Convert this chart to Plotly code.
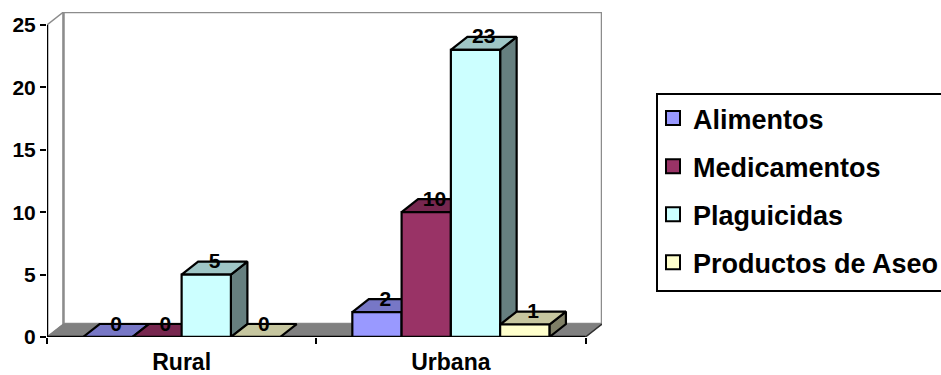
import plotly.graph_objects as go

# Chart data
categories = ["Rural", "Urbana"]
series_names = ["Alimentos", "Medicamentos", "Plaguicidas", "Productos de Aseo"]
alimentos = [0, 2]
medicamentos = [0, 10]
plaguicidas = [5, 23]
productos_aseo = [0, 1]
y_ticks = [0, 5, 10, 15, 20, 25]

series_values = [alimentos, medicamentos, plaguicidas, productos_aseo]
front_colors = ["#9999FF", "#993366", "#CCFFFF", "#FFFFCC"]


def shade(hex_color, factor):
    r, g, b = (int(hex_color[i:i + 2], 16) for i in (1, 3, 5))
    return f"rgb({int(r * factor)},{int(g * factor)},{int(b * factor)})"


# Oblique projection: how far the back plane is shifted, in axis units
DEPTH_X = 0.0613
DEPTH_Y = 1.04
BAR_GAP = 0.268
n_cat = len(categories)
n_ser = len(series_names)
y_top = max(y_ticks)
bar_w = (1 - BAR_GAP) / n_ser

FONT = "Liberation Sans, Arial, sans-serif"
WALL = "#8C8C8C"
EDGE = 2.2

fig = go.Figure()


def polygon(xs, ys, fill, line="black", width=EDGE):
    """Closed filled face on the rear subplot."""
    fig.add_trace(go.Scatter(
        x=xs + xs[:1], y=ys + ys[:1], mode="lines", fill="toself", fillcolor=fill,
        line=dict(color=line, width=width), showlegend=False, hoverinfo="skip",
        cliponaxis=False, xaxis="x", yaxis="y",
    ))


# Walls and floor
polygon([0, DEPTH_X, DEPTH_X, 0], [0, DEPTH_Y, y_top + DEPTH_Y, y_top], "white", WALL, 1.5)
polygon([DEPTH_X, n_cat + DEPTH_X, n_cat + DEPTH_X, DEPTH_X],
        [DEPTH_Y, DEPTH_Y, y_top + DEPTH_Y, y_top + DEPTH_Y], "white", WALL, 2.5)
polygon([0, n_cat, n_cat + DEPTH_X, DEPTH_X], [0, 0, DEPTH_Y, DEPTH_Y], "#808080", "#808080", 1)
fig.add_trace(go.Scatter(
    x=[n_cat, n_cat + DEPTH_X], y=[0, DEPTH_Y], mode="lines",
    line=dict(color="#303030", width=1.5), showlegend=False, hoverinfo="skip",
    cliponaxis=False, xaxis="x", yaxis="y",
))

# Top and side faces, painted left to right so later boxes hide earlier ones
for c in range(n_cat):
    for s in range(n_ser):
        v = series_values[s][c]
        x0 = c + BAR_GAP / 2 + s * bar_w
        x1 = x0 + bar_w
        color = front_colors[s]
        if v > 0:
            polygon([x1, x1 + DEPTH_X, x1 + DEPTH_X, x1],
                    [0, DEPTH_Y, v + DEPTH_Y, v], shade(color, 0.5))
        polygon([x0, x1, x1 + DEPTH_X, x0 + DEPTH_X],
                [v, v, v + DEPTH_Y, v + DEPTH_Y], shade(color, 0.78))

# Front faces, on the overlay subplot so they sit above every depth face
cat_centers = [c + 0.5 for c in range(n_cat)]
for name, values, color in zip(series_names, series_values, front_colors):
    fig.add_trace(go.Bar(
        x=cat_centers, y=values, name=name, showlegend=False,
        marker=dict(color=color, line=dict(color="black", width=EDGE)),
        cliponaxis=False, xaxis="x2", yaxis="y2",
    ))

# Legend keys: square markers, larger than the fixed swatch of a bar trace
for name, color in zip(series_names, front_colors):
    fig.add_trace(go.Scatter(
        x=[None], y=[None], mode="markers", name=name, legendgroup=name,
        marker=dict(symbol="square", size=14, color=color,
                    line=dict(color="black", width=2)),
        xaxis="x2", yaxis="y2",
    ))

# Axis lines stop at the last category and the top tick, short of the back plane
fig.add_trace(go.Scatter(
    x=[0, 0, n_cat], y=[y_top, 0, 0], mode="lines",
    line=dict(color="black", width=2.5), showlegend=False, hoverinfo="skip",
    cliponaxis=False, xaxis="x2", yaxis="y2",
))

# Value labels sit on the back edge of each box's top face
for s in range(n_ser):
    xs = [c + BAR_GAP / 2 + (s + 0.5) * bar_w + DEPTH_X / 2 for c in range(n_cat)]
    ys = [v + DEPTH_Y - 0.1 for v in series_values[s]]
    fig.add_trace(go.Scatter(
        x=xs, y=ys, mode="text", text=[str(v) for v in series_values[s]],
        textposition="middle center",
        textfont=dict(family=FONT, size=21, color="black", weight=700),
        showlegend=False, hoverinfo="skip", cliponaxis=False, xaxis="x2", yaxis="y2",
    ))

x_range = [0, n_cat + DEPTH_X]
y_range = [0, y_top + DEPTH_Y]
plot_left = 47
plot_width = 555

fig.update_layout(
    width=941, height=375,
    margin=dict(l=plot_left, r=941 - plot_left - plot_width, t=12, b=38, autoexpand=False),
    paper_bgcolor="white", plot_bgcolor="white",
    barmode="group", bargap=BAR_GAP, bargroupgap=0,
    xaxis=dict(
        range=x_range, showgrid=False, zeroline=False, showline=False,
        tickmode="array", tickvals=cat_centers, ticktext=categories, ticks="",
        minor=dict(tickmode="array", tickvals=list(range(n_cat + 1)), ticks="outside",
                   ticklen=6, tickwidth=2, tickcolor="black", showgrid=False),
        tickfont=dict(family=FONT, size=23, color="black", weight=700),
        ticklabelstandoff=9,
    ),
    yaxis=dict(
        range=y_range, showgrid=False, zeroline=False, showline=False,
        tickmode="array", tickvals=y_ticks, ticks="outside", ticklen=6, tickwidth=2,
        tickcolor="black",
        tickfont=dict(family=FONT, size=21, color="black", weight=700),
    ),
    xaxis2=dict(range=x_range, overlaying="x", visible=False),
    yaxis2=dict(range=y_range, overlaying="y", visible=False),
    legend=dict(
        xref="container", yref="container", x=653 / 941, y=1 - 94 / 375,
        xanchor="left", yanchor="top", bgcolor="rgba(0,0,0,0)",
        font=dict(family=FONT, size=27, color="black", weight=700),
        tracegroupgap=10, traceorder="grouped",
    ),
    # Legend frame runs off the right edge of the page
    shapes=[dict(
        type="rect", xref="paper", yref="paper", layer="below",
        x0=(657 - plot_left) / plot_width, x1=(950 - plot_left) / plot_width,
        y0=(375 - 38 - 291) / 325, y1=(375 - 38 - 94) / 325,
        line=dict(color="black", width=2), fillcolor="white",
    )],
)

fig.write_html("out.html")
